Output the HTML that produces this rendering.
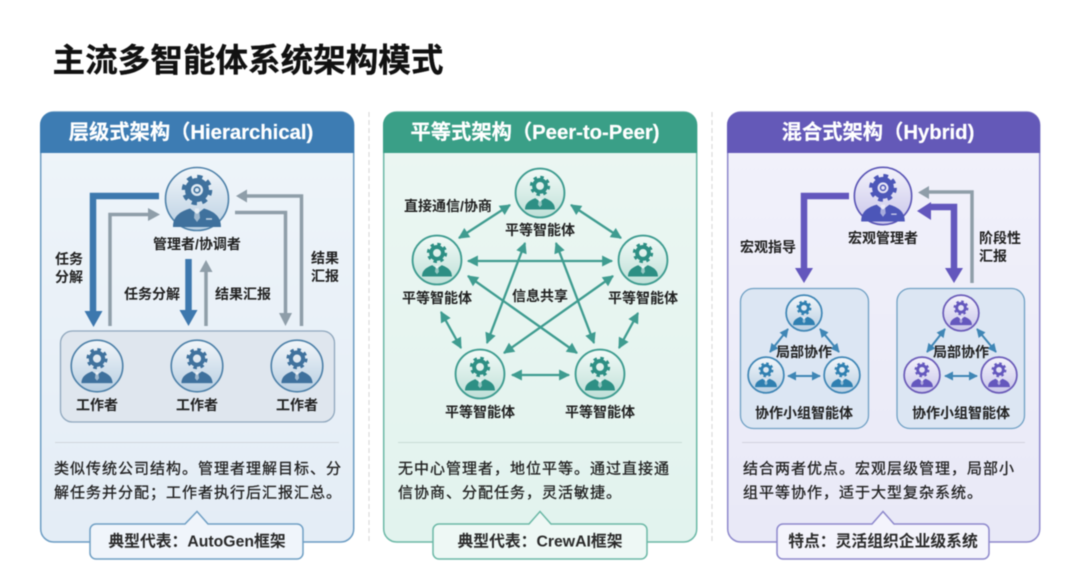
<!DOCTYPE html>
<html lang="zh">
<head>
<meta charset="utf-8">
<style>
html,body{margin:0;padding:0;background:#fff;width:1080px;height:581px;overflow:hidden}
svg{display:block;filter:blur(.5px)}
text{font-family:"Liberation Sans","Noto Sans CJK SC",sans-serif;fill:#222;text-anchor:middle;dominant-baseline:central}
.t{font-size:14px;font-weight:700}
.h{font-size:20.300px;font-weight:700;fill:#fff;stroke:#fff;stroke-width:.2px}
.d{font-size:15px;letter-spacing:1px;text-anchor:start;fill:#222;stroke:#222;stroke-width:.3px}
.c{font-size:15.800px;font-weight:700;fill:#2a2a2a}
.l{fill:none;stroke-linejoin:miter}
</style>
</head>
<body>
<svg width="1080" height="581" viewBox="0 0 1080 581" xmlns="http://www.w3.org/2000/svg">
<defs>
<linearGradient id="gb" x1="0" y1="0" x2="0" y2="1"><stop offset="0" stop-color="#f2f6fa"/><stop offset="1" stop-color="#b9cfe2"/></linearGradient>
<linearGradient id="gt" x1="0" y1="0" x2="0" y2="1"><stop offset="0" stop-color="#f2faf7"/><stop offset="1" stop-color="#bfe0d8"/></linearGradient>
<linearGradient id="gp" x1="0" y1="0" x2="0" y2="1"><stop offset="0" stop-color="#f4f3fb"/><stop offset="1" stop-color="#c9c6ea"/></linearGradient>
<linearGradient id="bb" x1="0" y1="0" x2="0" y2="1"><stop offset="0" stop-color="#eff5fa"/><stop offset="1" stop-color="#e4edf6"/></linearGradient>
<linearGradient id="bt" x1="0" y1="0" x2="0" y2="1"><stop offset="0" stop-color="#ecf7f3"/><stop offset="1" stop-color="#e2f3ee"/></linearGradient>
<linearGradient id="bp" x1="0" y1="0" x2="0" y2="1"><stop offset="0" stop-color="#f2f2fb"/><stop offset="1" stop-color="#e9e9f7"/></linearGradient>
<marker id="mt" viewBox="0 0 10 10" refX="9" refY="5" markerWidth="12" markerHeight="11" markerUnits="userSpaceOnUse" orient="auto-start-reverse"><path d="M0 0L10 5L0 10Z" fill="#3f9c90"/></marker>
<marker id="ms" viewBox="0 0 10 10" refX="9" refY="5" markerWidth="9" markerHeight="9" markerUnits="userSpaceOnUse" orient="auto-start-reverse"><path d="M0 0L10 5L0 10Z" fill="#3f86b5"/></marker>
<g id="inner">
<path d="M-19 21C-19 12-12 9-6 6.500L0 11L6 6.500C12 9 19 12 19 21Z" fill="currentColor"/>
<path d="M-1.500 7H1.500L2.500 15L0 18L-2.500 15Z" fill="#fff" opacity=".5"/>
<circle cx="0" cy="-9" r="7.500" fill="none" stroke="currentColor" stroke-width="5"/>
<circle cx="0" cy="-9" r="11.200" fill="none" stroke="currentColor" stroke-width="3.400" stroke-dasharray="4.400 4.400"/>
</g>
<g id="innerm">
<path d="M-24 28C-24 16-15 12-7 9.500L0 15L7 9.500C15 12 24 16 24 28Z" fill="currentColor"/>
<path d="M-2 9.500H2L3 19L0 23L-3 19Z" fill="#fff" opacity=".5"/>
<path d="M9 20H15" stroke="#fff" stroke-width="1.500" opacity=".7"/>
<circle cx="0" cy="-9" r="9" fill="none" stroke="currentColor" stroke-width="6"/>
<circle cx="0" cy="-9" r="2.800" fill="none" stroke="currentColor" stroke-width="1.600"/>
<circle cx="0" cy="-9" r="13.500" fill="none" stroke="currentColor" stroke-width="3.600" stroke-dasharray="5.300 5.300"/>
</g>
<symbol id="nb" viewBox="-33 -33 66 66"><circle r="31.500" fill="url(#gb)" stroke="#4d80a8" stroke-width="2"/><g color="#3f719d"><use href="#inner"/></g></symbol>
<symbol id="nbm" viewBox="-33 -33 66 66"><circle r="31.500" fill="url(#gb)" stroke="#4d80a8" stroke-width="1.600"/><g color="#3f719d"><use href="#innerm"/></g></symbol>
<symbol id="nt" viewBox="-33 -33 66 66"><circle r="31" fill="url(#gt)" stroke="#3f9c90" stroke-width="2.400"/><g color="#2d8f84"><use href="#inner"/></g></symbol>
<symbol id="np" viewBox="-33 -33 66 66"><circle r="31.500" fill="url(#gp)" stroke="#5a55b5" stroke-width="1.800"/><g color="#4c56b8"><use href="#innerm"/></g></symbol>
<symbol id="ns" viewBox="-33 -33 66 66"><circle r="31" fill="url(#gb)" stroke="#3f86b5" stroke-width="3"/><g color="#2f7fb0"><use href="#inner"/></g></symbol>
<symbol id="nv" viewBox="-33 -33 66 66"><circle r="31" fill="url(#gp)" stroke="#6a5bb8" stroke-width="3"/><g color="#6457bd"><use href="#inner"/></g></symbol>
</defs>

<rect width="1080" height="581" fill="#fff"/>
<text x="248" y="60" style="font-size:32.600px;font-weight:700;fill:#111;stroke:#111;stroke-width:.3px">主流多智能体系统架构模式</text>

<!-- separators -->
<line x1="369" y1="112" x2="369" y2="542" stroke="#d4d4d4" stroke-dasharray="5 3"/>
<line x1="712" y1="112" x2="712" y2="542" stroke="#d4d4d4" stroke-dasharray="5 3"/>

<!-- PANEL 1 -->
<rect x="40.700" y="112" width="313" height="430" rx="13" fill="url(#bb)" stroke="#6b9cc3" stroke-width="1.500"/>
<path d="M40 153V125a13 13 0 0 1 13-13H341a13 13 0 0 1 13 13V153Z" fill="#3d7cb3"/>
<text class="h" x="191" y="133">层级式架构（Hierarchical)</text>

<rect x="60.500" y="331" width="274" height="91" rx="12" fill="#dfe6ee" stroke="#8fa7bd" stroke-width="1.300"/>
<use href="#nbm" x="164" y="166" width="66" height="66"/>
<use href="#nb" x="70" y="339" width="54" height="54"/>
<use href="#nb" x="170" y="339" width="54" height="54"/>
<use href="#nb" x="270" y="339" width="54" height="54"/>
<text class="t" x="197" y="244">管理者/协调者</text>
<text class="t" x="97" y="405">工作者</text>
<text class="t" x="197" y="405">工作者</text>
<text class="t" x="297" y="405">工作者</text>

<!-- blue left -->
<path class="l" d="M159 196H93V312" stroke="#3d78ae" stroke-width="6.500"/>
<path d="M84.500 311H102.500L93.500 327Z" fill="#3d78ae"/>
<!-- grey left -->
<path class="l" d="M110 326V214.500H150" stroke="#8f9ea9" stroke-width="3.500"/>
<path d="M148 208L160 214.500L148 221Z" fill="#8f9ea9"/>
<!-- center -->
<line x1="188.500" y1="259" x2="188.500" y2="312" stroke="#3d78ae" stroke-width="6.500"/>
<path d="M179.500 310H197.500L188.500 326Z" fill="#3d78ae"/>
<line x1="206" y1="326" x2="206" y2="271" stroke="#8f9ea9" stroke-width="3.500"/>
<path d="M199.500 272H212.500L206 260Z" fill="#8f9ea9"/>
<!-- grey right -->
<path class="l" d="M235 212.500H285.500V315" stroke="#8f9ea9" stroke-width="3.500"/>
<path d="M279 313H292L285.500 326Z" fill="#8f9ea9"/>
<path class="l" d="M301.500 326V196H246" stroke="#8f9ea9" stroke-width="3.500"/>
<path d="M247 189.500V202.500L236 196Z" fill="#8f9ea9"/>

<text class="t" x="69" y="259">任务</text>
<text class="t" x="69" y="277">分解</text>
<text class="t" x="152" y="294">任务分解</text>
<text class="t" x="243" y="294">结果汇报</text>
<text class="t" x="325" y="258">结果</text>
<text class="t" x="325" y="276">汇报</text>

<line x1="55" y1="442.500" x2="339" y2="442.500" stroke="#cfd6dc"/>
<text class="d" x="54" y="469">类似传统公司结构。管理者理解目标、分</text>
<text class="d" x="54" y="493">解任务并分配；工作者执行后汇报汇总。</text>
<path d="M96 524H185L197 511.500L208 524H297a6 6 0 0 1 6 6V553a6 6 0 0 1-6 6H96a6 6 0 0 1-6-6V530a6 6 0 0 1 6-6Z" fill="#f0f5fb" stroke="#6f9fc4" stroke-width="1.500"/>
<text class="c" x="197" y="542">典型代表：AutoGen框架</text>

<!-- PANEL 2 -->
<rect x="383.700" y="112" width="313" height="430" rx="13" fill="url(#bt)" stroke="#6bb8a6" stroke-width="1.500"/>
<path d="M383 153V125a13 13 0 0 1 13-13H684a13 13 0 0 1 13 13V153Z" fill="#3a9f87"/>
<text class="h" x="535" y="133">平等式架构（Peer-to-Peer)</text>

<g stroke="#3f9c90" stroke-width="2.300" fill="none">
<line x1="510" y1="205" x2="459" y2="238" marker-start="url(#mt)" marker-end="url(#mt)"/>
<line x1="571" y1="205" x2="621" y2="238" marker-start="url(#mt)" marker-end="url(#mt)"/>
<line x1="468" y1="261" x2="612" y2="261" marker-start="url(#mt)" marker-end="url(#mt)"/>
<line x1="525" y1="243" x2="487" y2="343" marker-start="url(#mt)" marker-end="url(#mt)"/>
<line x1="556" y1="243" x2="594" y2="343" marker-start="url(#mt)" marker-end="url(#mt)"/>
<line x1="468" y1="276" x2="577" y2="353" marker-start="url(#mt)" marker-end="url(#mt)"/>
<line x1="613" y1="276" x2="504" y2="353" marker-start="url(#mt)" marker-end="url(#mt)"/>
<line x1="441" y1="312" x2="461" y2="348" marker-start="url(#mt)" marker-end="url(#mt)"/>
<line x1="638" y1="313" x2="619" y2="348" marker-start="url(#mt)" marker-end="url(#mt)"/>
<line x1="512" y1="375" x2="569" y2="375" marker-start="url(#mt)" marker-end="url(#mt)"/>
</g>
<use href="#nt" x="514" y="167" width="52" height="52"/>
<use href="#nt" x="411" y="234" width="52" height="52"/>
<use href="#nt" x="617" y="234" width="52" height="52"/>
<use href="#nt" x="454" y="348" width="52" height="52"/>
<use href="#nt" x="574" y="348" width="52" height="52"/>
<text class="t" x="540" y="230">平等智能体</text>
<text class="t" x="437" y="298">平等智能体</text>
<text class="t" x="643" y="298">平等智能体</text>
<text class="t" x="480" y="412">平等智能体</text>
<text class="t" x="600" y="412">平等智能体</text>
<text class="t" x="448" y="206">直接通信/协商</text>
<text class="t" x="540" y="296">信息共享</text>

<line x1="398" y1="442.500" x2="682" y2="442.500" stroke="#c9dcd6"/>
<text class="d" x="398" y="469">无中心管理者，地位平等。通过直接通</text>
<text class="d" x="398" y="493">信协商、分配任务，灵活敏捷。</text>
<path d="M439 524H529L540 511.500L551 524H641a6 6 0 0 1 6 6V553a6 6 0 0 1-6 6H439a6 6 0 0 1-6-6V530a6 6 0 0 1 6-6Z" fill="#eef8f5" stroke="#6bb8a6" stroke-width="1.500"/>
<text class="c" x="540" y="542">典型代表：CrewAI框架</text>

<!-- PANEL 3 -->
<rect x="727.700" y="112" width="312" height="430" rx="13" fill="url(#bp)" stroke="#8d88cc" stroke-width="1.500"/>
<path d="M727 153V125a13 13 0 0 1 13-13H1027a13 13 0 0 1 13 13V153Z" fill="#6459b8"/>
<text class="h" x="878" y="133">混合式架构（Hybrid)</text>

<rect x="740.500" y="288.500" width="128" height="140" rx="13" fill="#dce6f3" stroke="#6fa0c4" stroke-width="1.300"/>
<rect x="897" y="288.500" width="127.500" height="140" rx="13" fill="#dce6f3" stroke="#6fa0c4" stroke-width="1.300"/>

<use href="#np" x="853" y="166" width="60" height="60"/>
<text class="t" x="883" y="238">宏观管理者</text>

<path class="l" d="M849 196H804V270" stroke="#6357bd" stroke-width="6.500"/>
<path d="M795 268H813L804 283Z" fill="#6357bd"/>
<path class="l" d="M972 283V192H927" stroke="#8f9ea9" stroke-width="3.500"/>
<path d="M929 186V199L918 192.500Z" fill="#8f9ea9"/>
<path class="l" d="M954 270V207H929" stroke="#6357bd" stroke-width="6.500"/>
<path d="M931 202V220L917 211Z" fill="#6357bd"/>
<path d="M945 268H963L954 283Z" fill="#6357bd"/>

<text class="t" x="768" y="247">宏观指导</text>
<text class="t" x="1000" y="238">阶段性</text>
<text class="t" x="993" y="256">汇报</text>

<g fill="none" stroke="#3f86b5" stroke-width="2">
<line x1="788" y1="329" x2="770" y2="352" marker-start="url(#ms)" marker-end="url(#ms)"/>
<line x1="820" y1="329" x2="839" y2="352" marker-start="url(#ms)" marker-end="url(#ms)"/>
<line x1="788" y1="376" x2="820" y2="376" marker-start="url(#ms)" marker-end="url(#ms)"/>
<line x1="945" y1="329" x2="927" y2="352" marker-start="url(#ms)" marker-end="url(#ms)"/>
<line x1="977" y1="329" x2="996" y2="352" marker-start="url(#ms)" marker-end="url(#ms)"/>
<line x1="945" y1="376" x2="977" y2="376" marker-start="url(#ms)" marker-end="url(#ms)"/>
</g>
<use href="#ns" x="785" y="294" width="38" height="38"/>
<use href="#ns" x="747" y="356" width="38" height="38"/>
<use href="#ns" x="823" y="356" width="38" height="38"/>
<use href="#nv" x="942" y="294" width="38" height="38"/>
<use href="#nv" x="903" y="356" width="38" height="38"/>
<use href="#nv" x="980" y="356" width="38" height="38"/>
<text class="t" x="804" y="352">局部协作</text>
<text class="t" x="961" y="352">局部协作</text>
<text class="t" x="804" y="413">协作小组智能体</text>
<text class="t" x="961" y="413">协作小组智能体</text>

<line x1="742" y1="442.500" x2="1025" y2="442.500" stroke="#d2d2de"/>
<text class="d" x="743" y="469">结合两者优点。宏观层级管理，局部小</text>
<text class="d" x="743" y="493">组平等协作，适于大型复杂系统。</text>
<path d="M783 524H872L883 511.500L894 524H983a6 6 0 0 1 6 6V553a6 6 0 0 1-6 6H783a6 6 0 0 1-6-6V530a6 6 0 0 1 6-6Z" fill="#f4f4fc" stroke="#8d88cc" stroke-width="1.500"/>
<text class="c" x="883" y="542">特点：灵活组织企业级系统</text>
</svg>
</body>
</html>
